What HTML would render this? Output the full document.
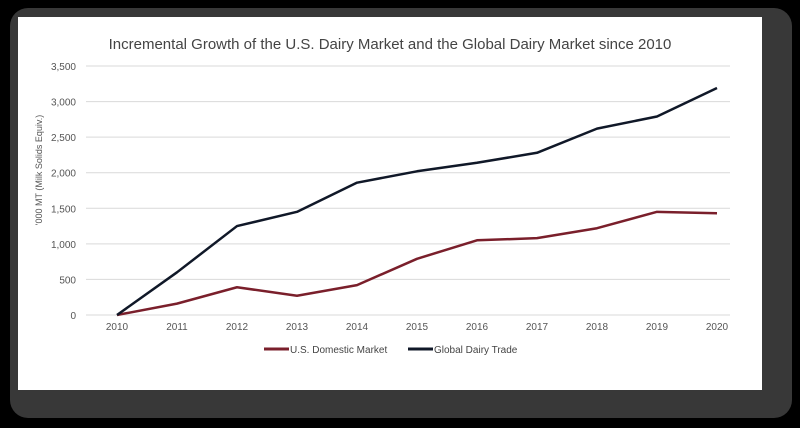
<!DOCTYPE html>
<html><head><meta charset="utf-8">
<style>
html,body{margin:0;padding:0;background:#000;width:800px;height:428px;overflow:hidden}
svg{display:block;font-family:"Liberation Sans",sans-serif}
</style></head>
<body>
<svg id="chart" width="800" height="428">
  <rect x="0" y="0" width="800" height="428" fill="#000"/>
  <rect x="10" y="8" width="782" height="410" rx="18" fill="#383838"/>
  <rect x="18" y="17" width="744" height="373" fill="#fff"/>
  <text x="390" y="49" text-anchor="middle" font-size="15" fill="#444">Incremental Growth of the U.S. Dairy Market and the Global Dairy Market since 2010</text>
  <text transform="translate(42,170) rotate(-90)" text-anchor="middle" font-size="9" fill="#555">'000 MT (Milk Solids Equiv.)</text>
  <g id="grid"></g>
  <g id="series"></g>
  <g>
    <line x1="264" y1="349" x2="289" y2="349" stroke="#7a1f2b" stroke-width="3"/>
    <text x="290" y="353" font-size="10" fill="#444">U.S. Domestic Market</text>
    <line x1="408" y1="349" x2="433" y2="349" stroke="#101828" stroke-width="3"/>
    <text x="434" y="353" font-size="10" fill="#444">Global Dairy Trade</text>
  </g>
</svg>
<script>
const years = [2010,2011,2012,2013,2014,2015,2016,2017,2018,2019,2020];
const usDomestic = [0,160,390,270,420,790,1050,1080,1220,1450,1430];
const globalTrade = [0,600,1250,1450,1860,2020,2140,2280,2620,2790,3190];
const yTicks = [0,500,1000,1500,2000,2500,3000,3500];
const yTickLabels = ["0","500","1,000","1,500","2,000","2,500","3,000","3,500"];

const NS="http://www.w3.org/2000/svg";
const x0=117,x1=717,yb=315,yt=66,yMax=3500;
const xs=i=>x0+(x1-x0)*i/(years.length-1);
const ys=v=>yb-(yb-yt)*v/yMax;
const grid=document.getElementById('grid'),ser=document.getElementById('series');
function mk(tag,attrs,parent){const e=document.createElementNS(NS,tag);for(const k in attrs)e.setAttribute(k,attrs[k]);parent.appendChild(e);return e;}
yTicks.forEach((v,i)=>{
  const l=mk('line',{x1:86,x2:730,y1:ys(v),y2:ys(v),stroke:'#d9d9d9','stroke-width':1},grid);
  
  
  const t=mk('text',{x:76,y:ys(v)+4,'text-anchor':'end','font-size':10,fill:'#555'},grid);
  t.textContent=yTickLabels[i];
  
  
});
years.forEach((yr,i)=>{
  const t=mk('text',{x:xs(i),y:330,'text-anchor':'middle','font-size':10,fill:'#555'},grid);
  t.textContent=yr;
  
  
});
function line(data,color,name){
  const p=mk('polyline',{points:data.map((v,i)=>xs(i)+','+ys(v)).join(' '),fill:'none',stroke:color,'stroke-width':2.5,'stroke-linejoin':'round'},ser);
  
  
}
line(usDomestic,'#7a1f2b','us-domestic-line');
line(globalTrade,'#101828','global-dairy-line');
</script>
</body></html>
